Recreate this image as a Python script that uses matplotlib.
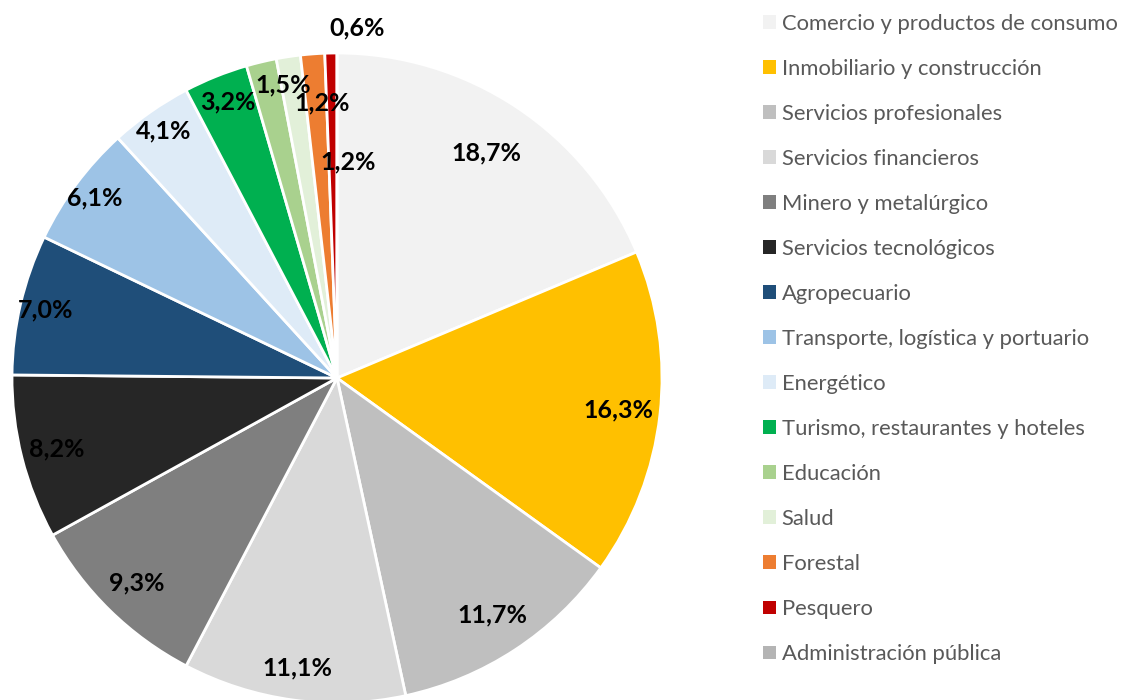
import matplotlib.pyplot as plt
from matplotlib.patches import Patch
import numpy as np

plt.rcParams['font.family'] = ['Lato', 'DejaVu Sans']

# sectors and share of total (%)
categories = ['Comercio y productos de consumo', 'Inmobiliario y construcción',
              'Servicios profesionales', 'Servicios financieros',
              'Minero y metalúrgico', 'Servicios tecnológicos', 'Agropecuario',
              'Transporte, logística y portuario', 'Energético',
              'Turismo, restaurantes y hoteles', 'Educación', 'Salud',
              'Forestal', 'Pesquero', 'Administración pública']
shares = [18.7, 16.3, 11.7, 11.1, 9.3, 8.2, 7.0, 6.1, 4.1, 3.2, 1.5, 1.2, 1.2, 0.6, 0.0]
colors = ['#F2F2F2', '#FFC000', '#BFBFBF', '#D9D9D9', '#7F7F7F', '#262626',
          '#1F4E79', '#9DC3E6', '#DEEBF7', '#00B050', '#A9D18E', '#E2F0D9',
          '#ED7D31', '#C00000', '#B4B4B4']

# label distance from centre (fraction of radius)
label_r = [0.83, 0.87, 0.87, 0.90, 0.88, 0.89, 0.92, 0.93, 0.93]
# small slices: labels moved by hand (like Excel's best fit)
label_xy = {'Turismo, restaurantes y hoteles': (-0.335, 0.849),
            'Educación': (-0.166, 0.902),
            'Salud': (-0.046, 0.846),
            'Forestal': (0.034, 0.665),
            'Pesquero': (0.062, 1.077)}

fig = plt.figure(figsize=(11.21, 7), dpi=100)
ax = fig.add_axes([12/1121, -3/700, 650/1121, 650/700])
wedges, _ = ax.pie(shares, colors=colors, startangle=90, counterclock=False,
                   radius=1, wedgeprops=dict(edgecolor='white', linewidth=2))
ax.set_xlim(-1, 1)
ax.set_ylim(-1, 1)

for i, w in enumerate(wedges):
    v = shares[i]
    if v == 0:
        continue
    if categories[i] in label_xy:
        x, y = label_xy[categories[i]]
    else:
        th = np.deg2rad((w.theta1 + w.theta2) / 2)
        x, y = label_r[i] * np.cos(th), label_r[i] * np.sin(th)
    txt = f'{v:.1f}'.replace('.', ',') + '%'
    ax.text(x, y, txt, ha='center', va='center', fontsize=18,
            fontweight='bold', color='black')

handles = [Patch(facecolor=c, edgecolor='none') for c in colors]
fig.legend(handles, categories, loc='upper left', bbox_to_anchor=(763/1121, 1 - 14/700),
           frameon=False, fontsize=15.8, labelcolor='#595959',
           handlelength=0.6, handleheight=0.6, handletextpad=0.25,
           labelspacing=1.14, borderpad=0, borderaxespad=0)

fig.savefig('out.png', dpi=100)
